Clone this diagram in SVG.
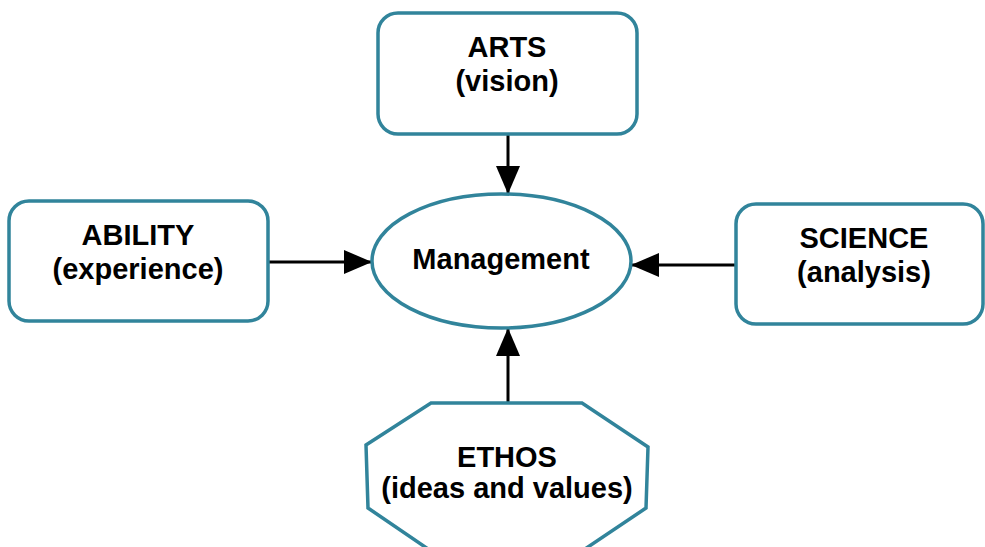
<svg xmlns="http://www.w3.org/2000/svg" width="985" height="547" viewBox="0 0 985 547">
<style>
.node{fill:#ffffff;stroke:#31849B;stroke-width:3.5}
.lbl{font-family:"Liberation Sans",Arial,sans-serif;font-weight:bold;font-size:29px;fill:#000;text-anchor:middle}
.conn{stroke:#000;stroke-width:3;fill:none}
</style>
<defs>
<marker id="ah" markerUnits="userSpaceOnUse" markerWidth="30" markerHeight="26" refX="28" refY="12" orient="auto">
<path d="M0,0 L28,12 L0,24 Z" fill="#000"/>
</marker>
</defs>
<rect width="985" height="547" fill="#ffffff"/>
<g id="connectors">
<line class="conn" x1="508" y1="135" x2="508" y2="194" marker-end="url(#ah)"/>
<line class="conn" x1="269" y1="262" x2="372" y2="262" marker-end="url(#ah)"/>
<line class="conn" x1="735" y1="265" x2="631" y2="265" marker-end="url(#ah)"/>
<line class="conn" x1="508" y1="403" x2="508" y2="328" marker-end="url(#ah)"/>
</g>
<g id="arts">
<rect class="node" x="378" y="13" width="259" height="121" rx="20" ry="20"/>
<text class="lbl" x="507" y="57">ARTS</text>
<text class="lbl" x="507" y="91">(vision)</text>
</g>
<g id="ability">
<rect class="node" x="9" y="201" width="259" height="120" rx="20" ry="20"/>
<text class="lbl" x="138" y="245">ABILITY</text>
<text class="lbl" x="138" y="279">(experience)</text>
</g>
<g id="science">
<rect class="node" x="736" y="204" width="247" height="120" rx="20" ry="20"/>
<text class="lbl" x="864" y="248">SCIENCE</text>
<text class="lbl" x="864" y="282">(analysis)</text>
</g>
<g id="management">
<ellipse class="node" cx="501.5" cy="261" rx="129.5" ry="67"/>
<text class="lbl" x="501" y="269">Management</text>
</g>
<g id="ethos">
<polygon class="node" points="431,403 582,403 648,447 646,508 582,551 431,551 368,508 366,445"/>
<text class="lbl" x="507" y="467">ETHOS</text>
<text class="lbl" x="507" y="498">(ideas and values)</text>
</g>
</svg>
